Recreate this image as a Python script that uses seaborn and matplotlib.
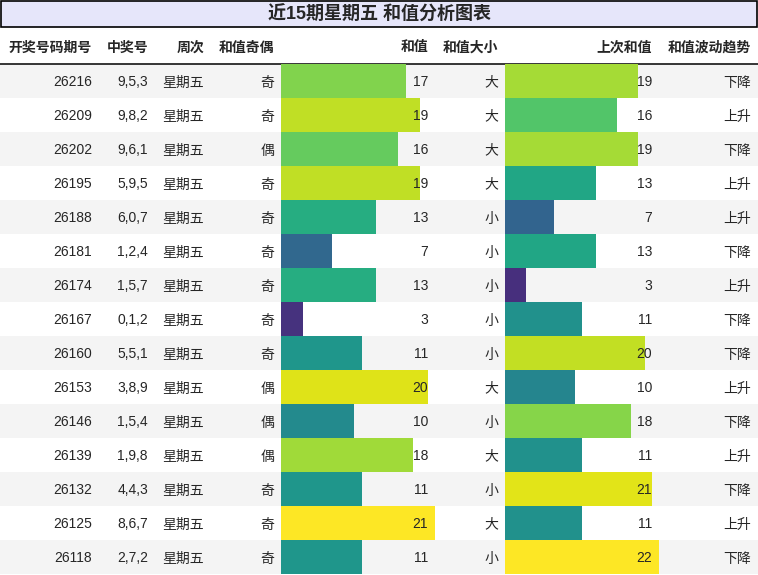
import numpy as np
import matplotlib
matplotlib.use("Agg")
import matplotlib.pyplot as plt
from matplotlib.patches import Rectangle
import seaborn as sns

# Table data
periods = ["26216", "26209", "26202", "26195", "26188", "26181", "26174", "26167",
           "26160", "26153", "26146", "26139", "26132", "26125", "26118"]
numbers = ["9,5,3", "9,8,2", "9,6,1", "5,9,5", "6,0,7", "1,2,4", "1,5,7", "0,1,2",
           "5,5,1", "3,8,9", "1,5,4", "1,9,8", "4,4,3", "8,6,7", "2,7,2"]
weekday = ["星期五"] * 15
parity = ["奇", "奇", "偶", "奇", "奇", "奇", "奇", "奇", "奇", "偶", "偶", "偶", "奇", "奇", "奇"]
sums = [17, 19, 16, 19, 13, 7, 13, 3, 11, 20, 10, 18, 11, 21, 11]
size_cls = ["大", "大", "大", "大", "小", "小", "小", "小", "小", "大", "小", "大", "小", "大", "小"]
prev_sums = [19, 16, 19, 13, 7, 13, 3, 11, 20, 10, 18, 11, 21, 11, 22]
trend = ["下降", "上升", "下降", "上升", "上升", "下降", "上升", "下降", "下降", "上升",
         "下降", "上升", "下降", "上升", "下降"]

headers = ["开奖号码期号", "中奖号", "周次", "和值奇偶", "和值", "和值大小", "上次和值", "和值波动趋势"]
title = "近15期星期五 和值分析图表"

sns.set_style("white")
plt.rcParams['font.family'] = ['Liberation Sans', 'Noto Sans CJK SC', 'DejaVu Sans']

W, H = 758, 575
TOP = 64      # first data row
ROW_H = 34
n = len(periods)

# column edges in pixels
col_left = [0, 99, 155, 211, 281, 435, 505, 659]
col_right = [99, 155, 211, 281, 435, 505, 659, 758]
pad = 7

fig = plt.figure(figsize=(W / 100, H / 100), dpi=100)

# background layer: stripes, title box, header rule
bg = fig.add_axes([0, 0, 1, 1], zorder=0)
bg.set_xlim(0, W)
bg.set_ylim(H, 0)
bg.axis('off')
for i in range(n):
    if i % 2 == 0:
        bg.add_patch(Rectangle((0, TOP + i * ROW_H), W, ROW_H, facecolor='#f4f4f4', edgecolor='none'))
bg.add_patch(Rectangle((0.75, 0.75), W - 1.75, 26.5, facecolor='#e6e6fa', edgecolor='black', linewidth=1.2))
bg.plot([0, W], [63.5, 63.5], color='black', linewidth=1.1)

# bar columns
cmap = plt.get_cmap('viridis')


def bar_column(x0, x1, labels, values):
    bx = fig.add_axes([x0 / W, (H - TOP - n * ROW_H) / H, (x1 - x0) / W, n * ROW_H / H], zorder=1)
    vmax = max(values)
    pal = {lab: cmap(v / vmax) for lab, v in zip(labels, values)}
    sns.barplot(x=values, y=labels, hue=labels, palette=pal, orient='h', width=1.0,
                saturation=1, linewidth=0, legend=False, ax=bx)
    bx.set_xlim(0, vmax)
    bx.set_ylim(n - 0.5, -0.5)
    bx.axis('off')
    return bx


bar_column(col_left[4], col_right[4], periods, sums)
bar_column(col_left[6], col_right[6], periods, prev_sums)

# text layer
tx = fig.add_axes([0, 0, 1, 1], zorder=2)
tx.set_xlim(0, W)
tx.set_ylim(H, 0)
tx.axis('off')
tx.patch.set_alpha(0)

tx.text(W / 2, 15, title, ha='center', va='center', fontsize=13, fontweight='bold')

for j, h in enumerate(headers):
    tx.text(col_right[j] - pad, 47.5, h, ha='right', va='center', fontsize=10, fontweight='bold')

columns = [periods, numbers, weekday, parity, [str(s) for s in sums], size_cls,
           [str(s) for s in prev_sums], trend]
for j, col in enumerate(columns):
    for i, val in enumerate(col):
        tx.text(col_right[j] - pad, TOP + i * ROW_H + ROW_H / 2 + 1.5, val,
                ha='right', va='center', fontsize=10)

fig.savefig('out.png', dpi=100)
